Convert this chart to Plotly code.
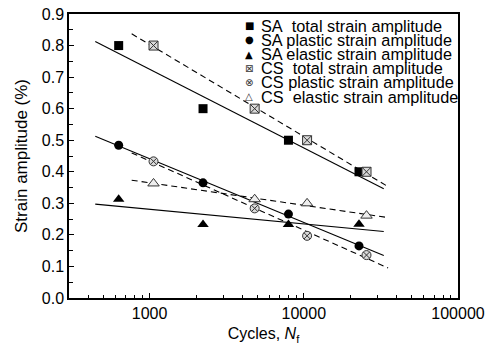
import numpy as np
import plotly.graph_objects as go

# ---- data ----
sa_cycles = [630, 2220, 7950, 22800]
cs_cycles = [1060, 4800, 10500, 25500]

sa_total = [0.800, 0.600, 0.500, 0.400]
sa_plastic = [0.484, 0.365, 0.266, 0.165]
sa_elastic = [0.313, 0.233, 0.233, 0.234]

cs_total = [0.800, 0.600, 0.500, 0.400]
cs_plastic = [0.433, 0.284, 0.197, 0.136]
cs_elastic = [0.363, 0.313, 0.300, 0.261]

sa_fit_range = [444, 33000]
cs_fit_range = [765, 35200]

x_tickvals = [1000, 10000, 100000]
x_minor_vals = [m * d for d in (100, 1000, 10000) for m in range(2, 10) if m * d > 300]

legend_names = [
    "SA\u00a0\u00a0total strain amplitude",
    "SA plastic strain amplitude",
    "SA elastic strain amplitude",
    "CS\u00a0\u00a0total strain amplitude",
    "CS plastic strain amplitude",
    "CS\u00a0\u00a0elastic strain amplitude",
]

FONT = "Liberation Sans, Arial, sans-serif"

fig = go.Figure()

series = [
    (sa_cycles, sa_total, sa_fit_range, "square", "black", "black", "solid"),
    (sa_cycles, sa_plastic, sa_fit_range, "circle", "black", "black", "solid"),
    (sa_cycles, sa_elastic, sa_fit_range, "triangle-up", "black", "black", "solid"),
    (cs_cycles, cs_total, cs_fit_range, "square-x", "#d9d9d9", "#333333", "dash"),
    (cs_cycles, cs_plastic, cs_fit_range, "circle-x", "#d9d9d9", "#333333", "dash"),
    (cs_cycles, cs_elastic, cs_fit_range, "triangle-up", "#eeeeee", "#333333", "dash"),
]

for (cx, cy, rng, sym, fill, edge, dash), name in zip(series, legend_names):
    lx = np.log10(np.array(cx, dtype=float))
    slope, icpt = np.polyfit(lx, np.array(cy, dtype=float), 1)
    fx = np.array(rng, dtype=float)
    fy = slope * np.log10(fx) + icpt
    fig.add_trace(go.Scatter(
        x=fx, y=fy, mode="lines",
        line=dict(color="black", width=1.1, dash="6px,4px" if dash == "dash" else "solid"),
        showlegend=False, hoverinfo="skip"))
for (cx, cy, rng, sym, fill, edge, dash), name in zip(series, legend_names):
    size = 10 if sym.startswith("triangle") else 9
    fig.add_trace(go.Scatter(
        x=cx, y=cy, mode="markers", name=name,
        marker=dict(symbol=sym, size=size, color=fill,
                    line=dict(color=edge, width=1 if fill != "black" else 0)),
        showlegend=False))

# manual compact legend
legend_syms = ["\u25A0", "\u25CF", "\u25B2", "\u22A0", "\u2297", "\u25B3"]
row0 = 0.959
step = 0.0500
for i, (s, name) in enumerate(zip(legend_syms, legend_names)):
    y = row0 - i * step
    fig.add_annotation(xref="paper", yref="paper", x=0.464, y=y, text=s,
                       showarrow=False, xanchor="center", yanchor="middle",
                       font=dict(family="DejaVu Sans", size=10,
                                 color="black" if i < 3 else "#333333"))
    fig.add_annotation(xref="paper", yref="paper", x=0.489, y=y, text=name,
                       showarrow=False, xanchor="left", yanchor="middle",
                       font=dict(family=FONT, size=16.3, color="black"))

fig.update_layout(
    width=486, height=347,
    margin=dict(l=69, r=28, t=14, b=49),
    paper_bgcolor="white", plot_bgcolor="white",
    font=dict(family=FONT, size=16, color="black"),
    showlegend=False,
)
fig.update_xaxes(
    type="log", range=[np.log10(300), 5], automargin=False,
    tickvals=x_tickvals, ticktext=[str(v) for v in x_tickvals],
    showline=True, linecolor="black", linewidth=1.5, mirror=True,
    ticks="inside", ticklen=5, tickcolor="black", tickwidth=1,
    minor=dict(ticks="inside", ticklen=3, tickcolor="black", tickvals=x_minor_vals, showgrid=False),
    showgrid=False, zeroline=False,
    title=dict(text="Cycles, <i>N</i><sub>f</sub>", standoff=7, font=dict(size=16)),
)
fig.update_yaxes(
    range=[0, 0.9], dtick=0.1, tickformat=".1f", automargin=False,
    showline=True, linecolor="black", linewidth=1.5, mirror=True,
    ticks="inside", ticklen=5, tickcolor="black", tickwidth=1,
    minor=dict(ticks="inside", ticklen=4, tickcolor="black", dtick=0.05, showgrid=False),
    showgrid=False, zeroline=False,
    title=dict(text="Strain amplitude (%)", standoff=10, font=dict(size=17)),
)

fig.write_html("out.html")
